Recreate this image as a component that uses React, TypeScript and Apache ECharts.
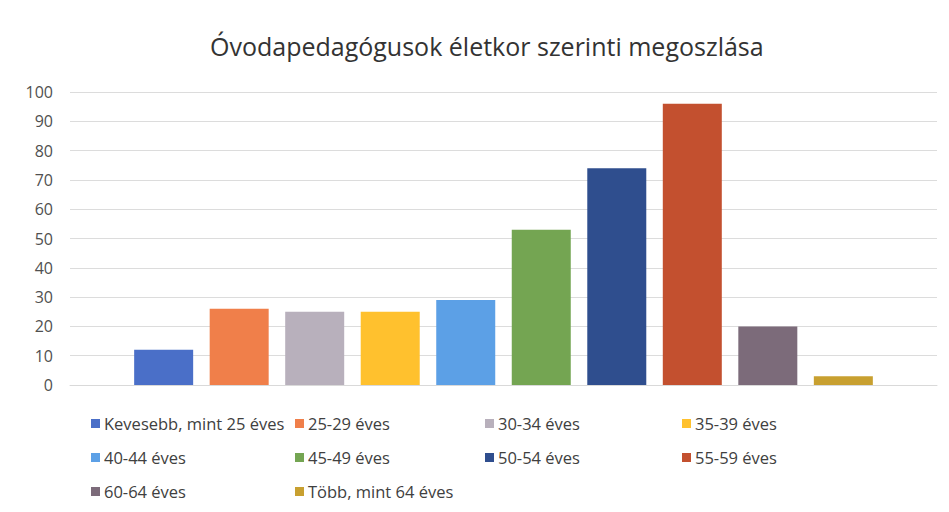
import React, { useEffect, useRef } from "react";
import * as echarts from "echarts";

const title = "Óvodapedagógusok életkor szerinti megoszlása";
const seriesNames = [
  "Kevesebb, mint 25 éves",
  "25-29 éves",
  "30-34 éves",
  "35-39 éves",
  "40-44 éves",
  "45-49 éves",
  "50-54 éves",
  "55-59 éves",
  "60-64 éves",
  "Több, mint 64 éves",
];
const values = [12, 26, 25, 25, 29, 53, 74, 96, 20, 3];
const colors = [
  "#4A6FC8",
  "#F07F4A",
  "#B8B0BC",
  "#FFC12E",
  "#5CA0E6",
  "#74A552",
  "#2F4E8E",
  "#C3502F",
  "#7C6B7A",
  "#C8A030",
];
const categories = [""];

// legend grid positions (column x, row y)
const legendCols = [86, 290, 480, 677];
const legendRows = [410, 444, 478];

export default function App() {
  const ref = useRef<HTMLDivElement>(null);
  useEffect(() => {
    if (!ref.current) return;
    const chart = echarts.init(ref.current, undefined, { renderer: "svg" });
    const font = "'Open Sans', 'Noto Sans', sans-serif";
    const legends = seriesNames.map((name, i) => ({
      data: [name],
      left: legendCols[i % 4],
      top: legendRows[Math.floor(i / 4)],
      orient: "horizontal" as const,
      icon: "rect",
      itemWidth: 9,
      itemHeight: 9,
      itemGap: 4,
      selectedMode: false,
      textStyle: { fontFamily: font, fontSize: 16.5, color: "#404040", padding: [0, 0, 0, -1] },
    }));
    chart.setOption({
      animation: false,
      backgroundColor: "#ffffff",
      title: {
        text: title,
        left: 205,
        top: 28,
        textStyle: { fontFamily: font, fontSize: 25, fontWeight: "normal", color: "#333333" },
      },
      legend: legends,
      grid: { left: 70, right: 12, top: 92, bottom: 127, containLabel: false },
      xAxis: {
        type: "category",
        data: categories,
        axisLine: { show: true, lineStyle: { color: "#d9d9d9" } },
        axisTick: { show: false },
        axisLabel: { show: false },
      },
      yAxis: {
        type: "value",
        min: 0,
        max: 100,
        interval: 10,
        axisLine: { show: false },
        axisTick: { show: false },
        axisLabel: { fontFamily: font, fontSize: 16, color: "#505050", margin: 17 },
        splitLine: { lineStyle: { color: "#dcdcdc" } },
      },
      series: seriesNames.map((name, i) => ({
        name,
        type: "bar",
        data: [values[i]],
        barWidth: 59,
        barGap: "28%",
        itemStyle: { color: colors[i] },
      })),
    });
    return () => chart.dispose();
  }, []);
  return (
    <div
      ref={ref}
      style={{ position: "absolute", left: 0, top: 0, width: 949, height: 512 }}
    />
  );
}
